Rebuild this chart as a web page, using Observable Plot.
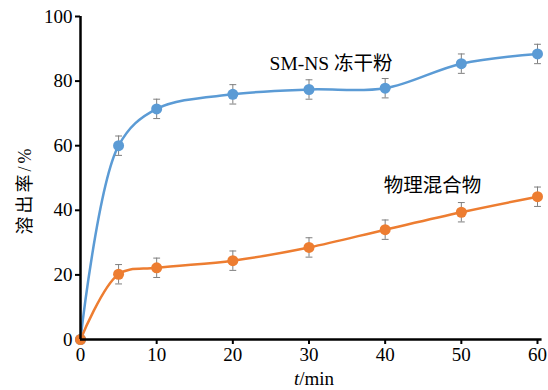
<!DOCTYPE html>
<html><head><meta charset="utf-8">
<script src="https://cdn.jsdelivr.net/npm/d3@7"></script>
<script src="https://cdn.jsdelivr.net/npm/@observablehq/plot@0.6"></script>
<style>body{margin:0;background:#fff} svg text{font-family:"Liberation Serif","DejaVu Serif","Noto Sans CJK SC",serif !important;}</style>
</head><body><div id="chart"></div>
<script>
const times = [0, 5, 10, 20, 30, 40, 50, 60];
const lyo = [0, 60.0, 71.4, 75.9, 77.4, 77.8, 85.4, 88.4];
const lyoErr = [0, 3, 3, 3, 3, 3, 3, 3];
const mix = [0, 20.2, 22.2, 24.4, 28.5, 34.0, 39.4, 44.2];
const mixErr = [0, 3, 3, 3, 3, 3, 3, 3];
const seriesNames = ["SM-NS 冻干粉", "物理混合物"];
const seriesColors = ["#5b9bd5", "#ed7d31"];
const labelT = [32.9, 46.2];
const labelV = [85.4, 47.7];
const xTicks = [0, 10, 20, 30, 40, 50, 60];
const yTicks = [0, 20, 40, 60, 80, 100];
const xLabel = "t/min";
const yLabel = "溶出率/%";

const data = [];
times.forEach((t, i) => {
  data.push({t, v: lyo[i], e: lyoErr[i], s: seriesNames[0]});
  data.push({t, v: mix[i], e: mixErr[i], s: seriesNames[1]});
});
const errData = data.filter(d => d.e > 0);
const labels = seriesNames.map((s, i) => ({s, t: labelT[i], v: labelV[i]}));
const font = "Liberation Serif, DejaVu Serif, Noto Sans CJK SC, serif";

const chart = Plot.plot({
  width: 548, height: 390,
  marginLeft: 80, marginRight: 11, marginTop: 16, marginBottom: 51,
  style: {fontSize: "19px", background: "white", color: "black"},
  x: {domain: [0, 60]},
  y: {domain: [0, 100]},
  color: {domain: seriesNames, range: seriesColors},
  marks: [
    Plot.axisX({ticks: xTicks, tickSize: 5, tickPadding: 3, label: null, fontSize: 19, strokeWidth: 2}),
    Plot.axisY({ticks: yTicks, tickSize: 5, tickPadding: 3, label: null, fontSize: 19, strokeWidth: 2}),
    Plot.line(data, {x: "t", y: "v", z: "s", stroke: "s", strokeWidth: 2.5, curve: "catmull-rom"}),
    Plot.ruleX(errData, {x: "t", y1: d => d.v - d.e, y2: d => d.v + d.e, stroke: "#7f7f7f", strokeWidth: 1}),
    Plot.link(errData, {x1: d => d.t - 0.45, x2: d => d.t + 0.45, y1: d => d.v + d.e, y2: d => d.v + d.e, stroke: "#7f7f7f", strokeWidth: 1}),
    Plot.link(errData, {x1: d => d.t - 0.45, x2: d => d.t + 0.45, y1: d => d.v - d.e, y2: d => d.v - d.e, stroke: "#7f7f7f", strokeWidth: 1}),
    Plot.dot(data, {x: "t", y: "v", fill: "s", r: 5.5}),
    Plot.text(labels, {x: "t", y: "v", text: "s", fontSize: 19.5, fill: "black"}),
    Plot.ruleX([0], {stroke: "black", strokeWidth: 2.5}),
    Plot.ruleY([0], {stroke: "black", strokeWidth: 2.5, x1: 0, x2: 60.6}),
    Plot.text([xLabel], {frameAnchor: "bottom", dy: 45, dx: 5, text: d => d, fontSize: 19, fill: "black", lineAnchor: "bottom"}),
    Plot.text([yLabel], {frameAnchor: "left", textAnchor: "middle", dx: -55, dy: 12, rotate: -90, text: d => d, fontSize: 18, fill: "black"})
  ]
});
d3.select(chart).attr("font-family", font);
d3.select(chart).selectAll("text").each(function() {
  if (this.textContent === xLabel) {
    const el = d3.select(this);
    el.text(null);
    el.append("tspan").attr("font-style", "italic").text("t");
    el.append("tspan").text("/min");
  } else if (this.textContent === yLabel) {
    d3.select(this).style("letter-spacing", "3px");
  }
});
document.getElementById("chart").appendChild(chart);
</script>
</body></html>
